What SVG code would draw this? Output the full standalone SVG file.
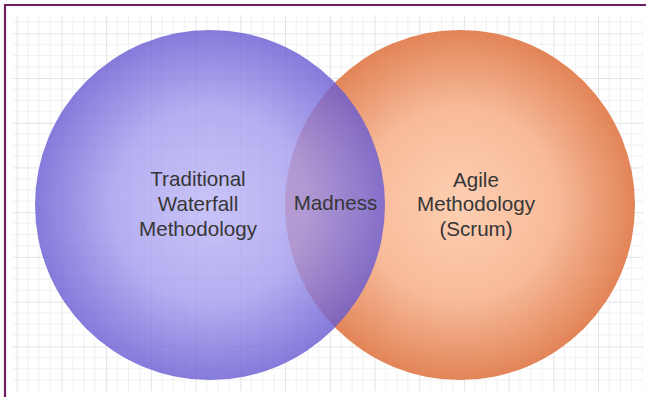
<svg xmlns="http://www.w3.org/2000/svg" width="646" height="397" viewBox="0 0 646 397">
  <defs>
    <style>
      .lbl { font-family: "Liberation Sans", Arial, sans-serif; font-size: 20.6px; fill: #363636; text-anchor: middle; }
      .minor { stroke: #f0f0f0; stroke-width: 1; }
      .major { stroke: #e4e4e4; stroke-width: 1; }
    </style>
    <!-- background grid: 4 minor cells per major cell -->
    <pattern id="grid" patternUnits="userSpaceOnUse" x="16.7" y="33.3" width="44.72" height="44.72">
      <path class="minor" d="M11.18 0V44.72M22.36 0V44.72M33.54 0V44.72M0 11.18H44.72M0 22.36H44.72M0 33.54H44.72"/>
      <path class="major" d="M0.5 0V44.72M0 0.5H44.72"/>
    </pattern>
    <radialGradient id="blueFill" cx="0.5" cy="0.5" r="0.5">
      <stop offset="0" stop-color="#bcb6f6"/>
      <stop offset="0.55" stop-color="#a39bee"/>
      <stop offset="1" stop-color="#675ad2"/>
    </radialGradient>
    <radialGradient id="orangeFill" cx="0.5" cy="0.5" r="0.5">
      <stop offset="0" stop-color="#fdcbab"/>
      <stop offset="0.55" stop-color="#f7b591"/>
      <stop offset="1" stop-color="#e07a4a"/>
    </radialGradient>
  </defs>

  <rect width="646" height="397" fill="#ffffff"/>
  <rect x="13" y="15" width="630" height="376" fill="url(#grid)"/>

  <!-- frame -->
  <path d="M5 397V5H646" fill="none" stroke="#6e1d5f" stroke-width="2.2"/>

  <g id="agile">
    <circle cx="460" cy="205" r="175" fill="url(#orangeFill)" fill-opacity="0.92"/>
    <text class="lbl" x="476" y="187">Agile</text>
    <text class="lbl" x="476" y="211">Methodology</text>
    <text class="lbl" x="476" y="236">(Scrum)</text>
  </g>

  <g id="waterfall">
    <circle cx="210" cy="205" r="175" fill="url(#blueFill)" fill-opacity="0.8"/>
    <text class="lbl" x="198" y="186">Traditional</text>
    <text class="lbl" x="198" y="211">Waterfall</text>
    <text class="lbl" x="198" y="236">Methodology</text>
  </g>

  <g id="overlap">
    <text class="lbl" x="335.5" y="210">Madness</text>
  </g>
</svg>
